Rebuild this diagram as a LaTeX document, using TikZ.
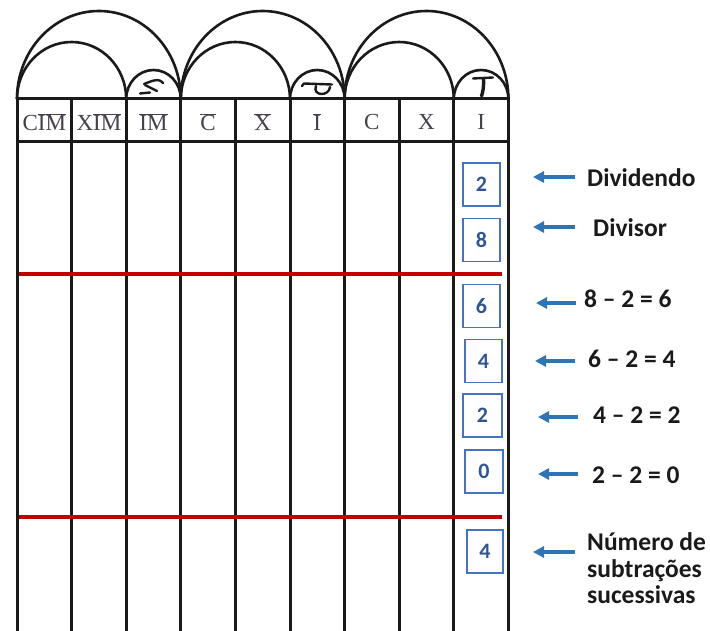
\documentclass[tikz,border=0pt]{standalone}
\usepackage{fontspec}
\setmainfont{Liberation Serif}
\newfontfamily\calib{Carlito}
\usetikzlibrary{arrows.meta}
\definecolor{ink}{RGB}{26,26,26}
\definecolor{redl}{RGB}{192,0,0}
\definecolor{boxb}{RGB}{68,114,196}
\definecolor{numb}{RGB}{47,85,151}
\definecolor{arrb}{RGB}{46,117,182}
\definecolor{hdr}{RGB}{70,64,74}
\newcommand\ovl[1]{\ensuremath{\overline{\hbox{#1}}}}
\begin{document}
\begin{tikzpicture}[x=1pt,y=-1pt,
  grid/.style={draw=ink,line width=3pt},
  arcln/.style={draw=ink,line width=2.6pt},
  redline/.style={draw=redl,line width=4.8pt},
  numbox/.style={draw=boxb,line width=1.4pt,minimum width=37pt,minimum height=43pt,inner sep=0pt,text=numb,font=\calib\bfseries\fontsize{22}{22}\selectfont},
  lbl/.style={anchor=base west,inner sep=0pt,text=ink,font=\calib\bfseries\fontsize{25.5}{25.5}\selectfont},
  hd/.style={text=hdr,font=\fontsize{23}{23}\selectfont,inner sep=0pt},
  arr/.style={draw=arrb,line width=3.2pt,-{Triangle[length=11pt,width=11pt]}},
  glyph/.style={draw=ink,line width=2.4pt,line cap=round,line join=round}]
\useasboundingbox (0,0) rectangle (710,631);
% vertical lines
\foreach \i in {0,...,9} {
  \draw[grid] ({17+54.6*\i},99) -- ({17+54.6*\i},633);
}
% header horizontal lines
\draw[grid] (15.5,99) -- (509.9,99);
\draw[grid] (15.5,142) -- (509.9,142);
% arcs
\foreach \g in {0,1,2} {
  \pgfmathsetmacro\xs{17+163.8*\g}
  \draw[arcln] (\xs,99) arc[start angle=180,end angle=0,x radius=81.9pt,y radius=88pt];
  \draw[arcln] (\xs,99) arc[start angle=180,end angle=0,x radius=54.6pt,y radius=57pt];
  \draw[arcln] ({\xs+109.2},99) arc[start angle=180,end angle=0,x radius=27.3pt,y radius=29pt];
}
% header labels
\node[hd] (h1) at ({17+54.6*0.5},122) {C\ovl{IM}};
\node[hd] (h2) at ({17+54.6*1.5},122) {X\ovl{IM}};
\node[hd] (h3) at ({17+54.6*2.5},122) {\ovl{IM}};
\node[hd] (h4) at ({17+54.6*3.5},122) {\ovl{C}};
\node[hd] (h5) at ({17+54.6*4.5},122) {\ovl{X}};
\node[hd] (h6) at ({17+54.6*5.5},122) {\ovl{I}};
\node[hd] (h7) at ({17+54.6*6.5},122) {C};
\node[hd] (h8) at ({17+54.6*7.5},122) {X};
\node[hd] (h9) at ({17+54.6*8.5},122) {I};
% glyphs in small arcs
\draw[glyph] (144,84) -- (152,81) .. controls (156,80) and (160,79) .. (163,83);
\draw[glyph] (145,85) -- (157,91);
\draw[glyph] (140,93.5) -- (150,92.5);
\draw[glyph] (302,86) -- (304,83.5) -- (332,84.5);
\draw[glyph] (316,86) .. controls (312,96) and (329,97) .. (330,87);
\draw[glyph] (473,78.5) -- (493,77.5);
\draw[glyph,line width=3.4pt] (483.5,78.5) .. controls (484,86) and (483,92) .. (481.5,96);
% red lines
\draw[redline] (19,274) -- (502,274);
\draw[redline] (19,517) -- (502,517);
% number boxes
\node[numbox] (n1) at (481.5,184.5) {2};
\node[numbox] (n2) at (481.5,240) {8};
\node[numbox] (n3) at (481.5,306) {6};
\node[numbox] (n4) at (483.5,361) {4};
\node[numbox,minimum width=39pt] (n5) at (482.5,415.5) {2};
\node[numbox,minimum width=38pt] (n6) at (484,471.5) {0};
\node[numbox,minimum width=36pt] (n7) at (485,551.5) {4};
% labels
\node[lbl] (t1) at (587,187) {Dividendo};
\node[lbl] (t2) at (593,237) {Divisor};
\node[lbl] (t3) at (584,308) {8 – 2 = 6};
\node[lbl] (t4) at (588,367) {6 – 2 = 4};
\node[lbl] (t5) at (593,423) {4 – 2 = 2};
\node[lbl] (t6) at (592,483) {2 – 2 = 0};
\node[lbl] (t7a) at (587,550) {Número de};
\node[lbl] (t7b) at (587,577) {subtrações};
\node[lbl] (t7c) at (587,603) {sucessivas};
% arrows
\coordinate (s1) at (575,177); \coordinate (e1) at (533,177);
\coordinate (s2) at (575,227); \coordinate (e2) at (533,227);
\coordinate (s3) at (576,303); \coordinate (e3) at (536,303);
\coordinate (s4) at (575,361); \coordinate (e4) at (535,361);
\coordinate (s5) at (578,417); \coordinate (e5) at (538,417);
\coordinate (s6) at (578,474); \coordinate (e6) at (538,474);
\coordinate (s7) at (575,552); \coordinate (e7) at (533,552);
\foreach \k in {1,...,7} { \draw[arr] (s\k) -- (e\k); }
\end{tikzpicture}
\end{document}
